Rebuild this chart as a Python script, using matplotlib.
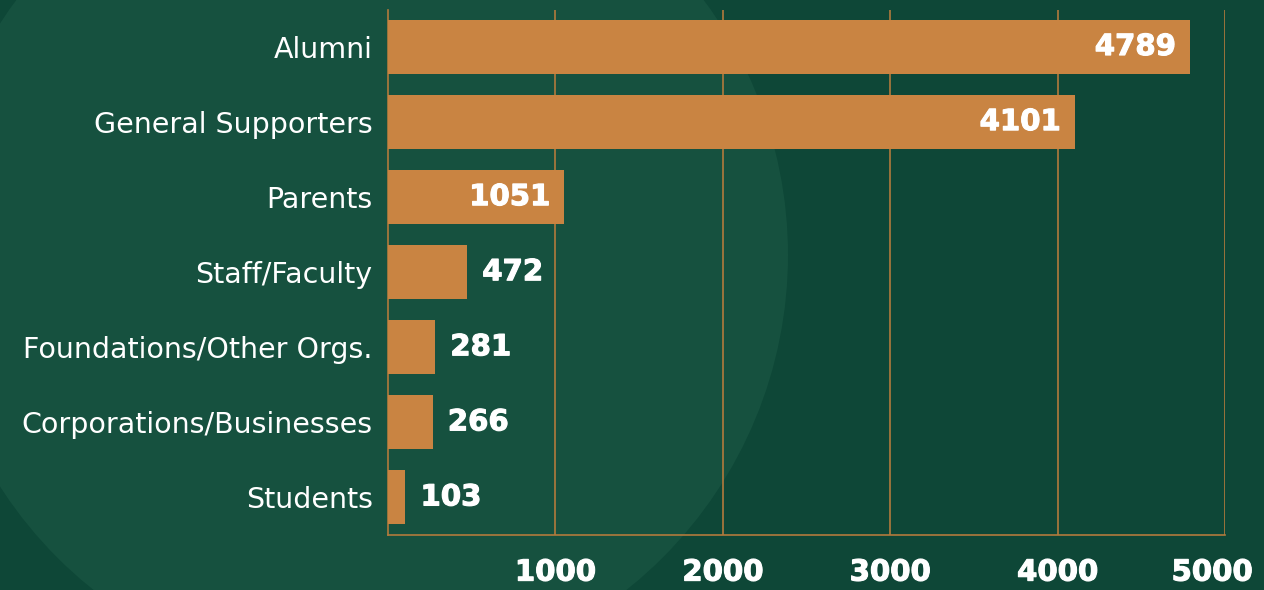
import matplotlib
matplotlib.use("Agg")
from matplotlib import pyplot as plt
from matplotlib.patches import Circle
import matplotlib.patheffects as pe
import matplotlib.transforms as mtrans

# datos
categorias = ["Alumni", "General Supporters", "Parents", "Staff/Faculty",
              "Foundations/Other Orgs.", "Corporations/Businesses", "Students"]
valores = [4789, 4101, 1051, 472, 281, 266, 103]
ticks_x = [1000, 2000, 3000, 4000, 5000]

# colores
fondo = "#0e4737"
circulo = "#16513f"
naranja = "#c98442"
linea = "#b27a3c"

# trazo extra para que el texto se vea mas grueso
grueso = [pe.withStroke(linewidth=0.8, foreground="white")]

W, H = 1264, 590
fig = plt.figure(figsize=(W / 100, H / 100), dpi=100, facecolor=fondo)

# fondo con circulo claro (ejes en pixeles)
bg = fig.add_axes([0, 0, 1, 1], zorder=0)
bg.set_xlim(0, W)
bg.set_ylim(H, 0)
bg.axis("off")
bg.add_patch(Circle((360, 255), 428, facecolor=circulo, edgecolor="none"))

ax = fig.add_axes([388 / W, 1 - 535 / H, (1225 - 388) / W, (535 - 9.5) / H], zorder=1)
ax.set_facecolor("none")

pos = list(range(len(categorias)))
ax.barh(pos, valores, height=0.72, color=naranja, zorder=3)

ax.set_xlim(0, 5000)
ax.set_ylim(len(categorias) - 0.5, -0.5)

ax.set_yticks(pos)
ax.set_yticklabels(categorias)
ax.set_xticks(ticks_x)
ax.set_xticklabels([str(t) for t in ticks_x])
ax.tick_params(axis="y", length=0, pad=11, labelsize=20.5, labelcolor="white")
ax.tick_params(axis="x", length=0, pad=17, labelsize=21, labelcolor="white")
for lbl in ax.get_xticklabels():
    lbl.set_fontweight("heavy")
    lbl.set_path_effects(grueso)
# la ultima etiqueta queda un poco a la izquierda, como en el original
ult = ax.get_xticklabels()[-1]
ult.set_transform(ult.get_transform() + mtrans.ScaledTranslation(-0.13, 0, fig.dpi_scale_trans))

ax.grid(axis="x", color=linea, linewidth=1.2, zorder=1)
for s in ["top", "right"]:
    ax.spines[s].set_visible(False)
for s in ["left", "bottom"]:
    ax.spines[s].set_color(linea)
    ax.spines[s].set_linewidth(1.2)

# etiquetas de valores
for p, v in zip(pos, valores):
    if v > 1000:
        ax.annotate(str(v), (v, p), xytext=(-10, 0), textcoords="offset points",
                    ha="right", va="center", color="white", fontsize=21,
                    fontweight="heavy", zorder=4, path_effects=grueso)
    else:
        ax.annotate(str(v), (v, p), xytext=(11, 0), textcoords="offset points",
                    ha="left", va="center", color="white", fontsize=21,
                    fontweight="heavy", zorder=4, path_effects=grueso)

fig.savefig("out.png", dpi=100, facecolor=fondo)
